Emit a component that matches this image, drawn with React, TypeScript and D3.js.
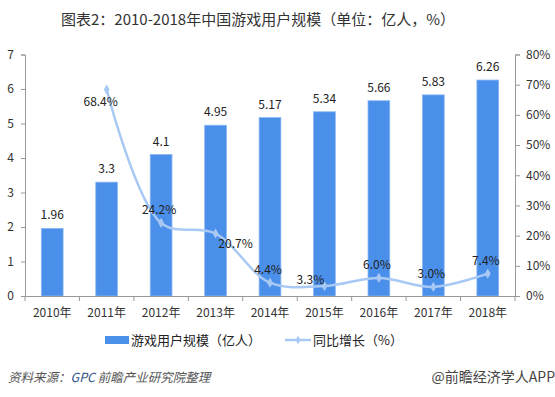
import { useEffect, useRef } from "react";
import * as d3 from "d3";

const years = ["2010年", "2011年", "2012年", "2013年", "2014年", "2015年", "2016年", "2017年", "2018年"];
const users = [1.96, 3.3, 4.1, 4.95, 5.17, 5.34, 5.66, 5.83, 6.26];
const userLabels = ["1.96", "3.3", "4.1", "4.95", "5.17", "5.34", "5.66", "5.83", "6.26"];
const growthYears = years.slice(1);
const growth = [68.4, 24.2, 20.7, 4.4, 3.3, 6.0, 3.0, 7.4];
// where each growth label sits relative to its point
const growthLabelSide = ["belowLeft", "above", "belowRight", "above", "left", "above", "above", "above"];
const leftTicks = [0, 1, 2, 3, 4, 5, 6, 7];
const rightTicks = [0, 10, 20, 30, 40, 50, 60, 70, 80];

const FONT = "'Noto Sans CJK SC', 'DejaVu Sans', sans-serif";
const BAR = "#4a8fea";
const LINE = "#a9c9f5";

export default function App() {
  const ref = useRef<SVGSVGElement | null>(null);

  useEffect(() => {
    const svg = d3.select(ref.current);
    svg.selectAll("*").remove();

    const left = 25, right = 515, top = 54.5, bottom = 296;

    const x = d3.scaleBand().domain(years).range([left, right]).padding(0);
    const yL = d3.scaleLinear().domain([0, 7]).range([bottom, top]);
    const yR = d3.scaleLinear().domain([0, 80]).range([bottom, top]);
    const cx = (c: string) => (x(c) as number) + x.bandwidth() / 2;
    const barW = x.bandwidth() * 0.4;

    // title
    svg.append("text")
      .attr("x", 258).attr("y", 25)
      .attr("text-anchor", "middle")
      .attr("font-size", 15).attr("fill", "#333")
      .text("图表2：2010-2018年中国游戏用户规模（单位：亿人，%）");

    const axisColor = "#999";

    // left axis
    const gl = svg.append("g").attr("transform", `translate(${left},0)`)
      .call(d3.axisLeft(yL).tickValues(leftTicks).tickSize(4).tickPadding(7).tickFormat(d3.format("d")));
    gl.select(".domain").attr("stroke", axisColor);
    gl.selectAll("line").attr("stroke", axisColor);
    gl.selectAll("text").attr("font-size", 12).attr("font-family", FONT).attr("fill", "#333");

    // right axis
    const gr = svg.append("g").attr("transform", `translate(${right},0)`)
      .call(d3.axisRight(yR).tickValues(rightTicks).tickSize(5).tickPadding(6).tickFormat((d) => `${d}%`));
    gr.select(".domain").attr("stroke", axisColor);
    gr.selectAll("line").attr("stroke", axisColor);
    gr.selectAll("text").attr("font-size", 12).attr("font-family", FONT).attr("fill", "#333");

    // bars
    svg.append("g").selectAll("rect").data(users).join("rect")
      .attr("x", (_, i) => cx(years[i]) - barW / 2)
      .attr("y", (d) => yL(d))
      .attr("width", barW)
      .attr("height", (d) => bottom - yL(d))
      .attr("fill", BAR)
      .attr("stroke", "#8db8f2").attr("stroke-width", 0.8);

    svg.append("g").selectAll("text").data(users).join("text")
      .attr("x", (_, i) => cx(years[i]))
      .attr("y", (d) => yL(d) - 9)
      .attr("text-anchor", "middle")
      .attr("font-size", 12).attr("fill", "#222")
      .text((_, i) => userLabels[i]);

    // x axis
    const gx = svg.append("g").attr("transform", `translate(0,${bottom})`)
      .call(d3.axisBottom(x).tickSize(0).tickPadding(12));
    gx.select(".domain").attr("stroke", axisColor);
    gx.selectAll("text").attr("font-size", 12).attr("font-family", FONT).attr("fill", "#333");
    svg.append("g").selectAll("line").data(years.concat([""])).join("line")
      .attr("x1", (_, i) => left + i * x.step())
      .attr("x2", (_, i) => left + i * x.step())
      .attr("y1", bottom).attr("y2", bottom + 5)
      .attr("stroke", axisColor);

    // growth line
    const line = d3.line<number>()
      .x((_, i) => cx(growthYears[i]))
      .y((d) => yR(d))
      .curve(d3.curveCatmullRom.alpha(0.5));
    svg.append("path").datum(growth)
      .attr("d", line)
      .attr("fill", "none")
      .attr("stroke", LINE).attr("stroke-width", 2.5);

    svg.append("g").selectAll("path").data(growth).join("path")
      .attr("d", d3.symbol(d3.symbolDiamond, 30)())
      .attr("transform", (d, i) => `translate(${cx(growthYears[i])},${yR(d)})`)
      .attr("fill", LINE);

    const off: Record<string, [number, number]> = {
      belowLeft: [-6, 16],
      above: [-2, -9],
      belowRight: [20, 14],
      left: [-14, -2],
    };
    svg.append("g").selectAll("text").data(growth).join("text")
      .attr("x", (_, i) => cx(growthYears[i]) + off[growthLabelSide[i]][0])
      .attr("y", (d, i) => yR(d) + off[growthLabelSide[i]][1])
      .attr("text-anchor", "middle")
      .attr("font-size", 12).attr("fill", "#222")
      .text((d) => `${d.toFixed(1)}%`);

    // legend
    const lg = svg.append("g").attr("font-size", 13).attr("fill", "#222");
    lg.append("rect").attr("x", 105).attr("y", 336).attr("width", 24).attr("height", 8).attr("fill", BAR);
    lg.append("text").attr("x", 131).attr("y", 345).text("游戏用户规模（亿人）");
    lg.append("line").attr("x1", 285).attr("x2", 311).attr("y1", 340).attr("y2", 340)
      .attr("stroke", LINE).attr("stroke-width", 2.5);
    lg.append("path").attr("d", d3.symbol(d3.symbolDiamond, 22)()).attr("transform", "translate(298,340)").attr("fill", LINE);
    lg.append("text").attr("x", 313).attr("y", 345).text("同比增长（%）");

    // footer
    const src = svg.append("text").attr("x", 8).attr("y", 382)
      .attr("font-size", 12.5).attr("font-style", "italic").attr("fill", "#555");
    src.append("tspan").text("资料来源：");
    src.append("tspan").attr("fill", "#2f4f86").text("GPC ");
    src.append("tspan").text("前瞻产业研究院整理");
    svg.append("text").attr("x", 555).attr("y", 382)
      .attr("text-anchor", "end")
      .attr("font-size", 14).attr("fill", "#444")
      .text("@前瞻经济学人APP");
  }, []);

  return (
    <svg
      ref={ref}
      width={555}
      height={397}
      style={{ position: "absolute", left: 0, top: 0, fontFamily: FONT, background: "#fff" }}
    />
  );
}
